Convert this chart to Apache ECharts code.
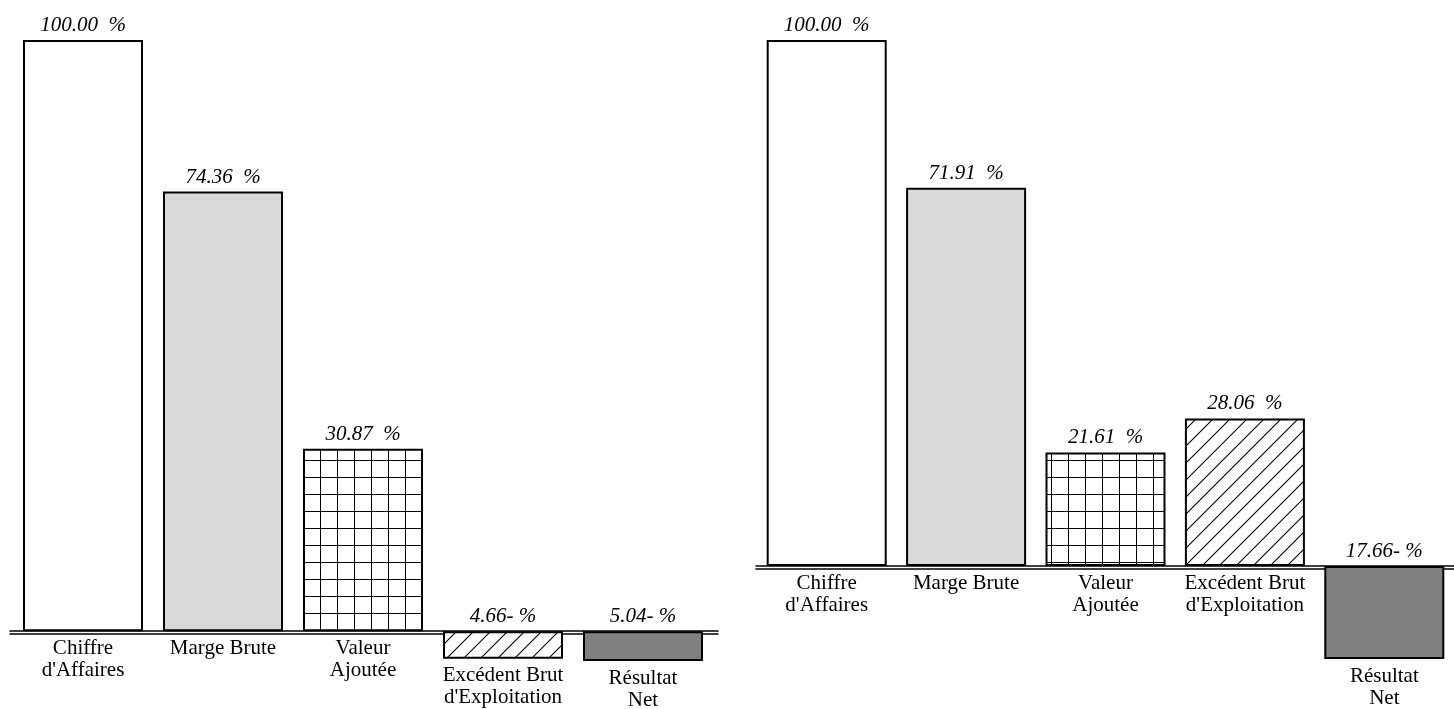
<!DOCTYPE html>
<html>
<head>
<meta charset="utf-8">
<script src="https://cdn.jsdelivr.net/npm/echarts@6/dist/echarts.min.js"></script>
<style>
html,body{margin:0;padding:0;background:#fff;}
#chart{width:1454px;height:709px;}
</style>
</head>
<body>
<div id="chart"></div>
<script>
// ---- data ----
var categories = ["Chiffre\nd'Affaires", "Marge Brute", "Valeur\nAjoutée", "Excédent Brut\nd'Exploitation", "Résultat\nNet"];
var valuesLeft = [100.00, 74.36, 30.87, -4.66, -5.04];
var valuesRight = [100.00, 71.91, 21.61, 28.06, -17.66];
var axisMax = 100;

// ---- styles ----
var FONT = 'Liberation Serif';
function makeGridTile() {
  var c = document.createElement('canvas');
  c.width = 17; c.height = 17;
  var g = c.getContext('2d');
  g.fillStyle = '#fff'; g.fillRect(0, 0, 17, 17);
  g.strokeStyle = '#000'; g.lineWidth = 1;
  g.beginPath();
  g.moveTo(14.5, 0); g.lineTo(14.5, 17);
  g.moveTo(0, 1.5); g.lineTo(17, 1.5);
  g.stroke();
  return c;
}
function makeHatchTile() {
  var c = document.createElement('canvas');
  c.width = 17; c.height = 17;
  var g = c.getContext('2d');
  g.fillStyle = '#fff'; g.fillRect(0, 0, 17, 17);
  g.strokeStyle = '#000'; g.lineWidth = 1.1;
  g.beginPath();
  g.moveTo(-1, 18); g.lineTo(18, -1);
  g.moveTo(-2, 2); g.lineTo(2, -2);
  g.moveTo(15, 19); g.lineTo(19, 15);
  g.stroke();
  return c;
}
var fills = [
  '#ffffff',
  '#d9d9d9',
  { image: makeGridTile(), repeat: 'repeat' },
  { image: makeHatchTile(), repeat: 'repeat' },
  '#808080'
];

function fmt(v) {
  return Math.abs(v).toFixed(2) + (v < 0 ? '-' : ' ') + ' %';
}

function barData(vals) {
  return vals.map(function (v, i) {
    return { value: v, itemStyle: { color: fills[i], borderColor: '#000', borderWidth: 2 } };
  });
}

function yAxisFor(gridIndex, vals) {
  return {
    type: 'value', gridIndex: gridIndex, min: Math.min.apply(null, vals), max: axisMax,
    axisLine: { show: false }, axisTick: { show: false }, axisLabel: { show: false }, splitLine: { show: false }
  };
}
function xAxisBars(gridIndex) {
  return {
    type: 'category', gridIndex: gridIndex, data: categories,
    axisLine: { show: false }, axisTick: { show: false }, axisLabel: { show: false }, splitLine: { show: false }
  };
}
function xAxisLine(gridIndex) {
  return {
    type: 'category', gridIndex: gridIndex, data: categories,
    axisLine: { show: true, onZero: true, lineStyle: { color: '#000', width: 1.5, shadowColor: '#000', shadowOffsetY: 3, shadowBlur: 0 } },
    axisTick: { show: false }, axisLabel: { show: false }, splitLine: { show: false }
  };
}
function seriesFor(axisIndex, vals) {
  return [
    {
      type: 'bar', xAxisIndex: axisIndex, yAxisIndex: axisIndex, barWidth: 120, barGap: '-100%',
      data: barData(vals), silent: true, z: 3,
      label: { show: true, position: 'top', distance: 4, fontFamily: FONT, fontStyle: 'italic', fontSize: 21, color: '#000',
        formatter: function (p) { return fmt(p.value); } }
    },
    {
      type: 'bar', xAxisIndex: axisIndex, yAxisIndex: axisIndex, barWidth: 120, barGap: '-100%',
      data: vals, silent: true, z: 2,
      itemStyle: { color: 'rgba(0,0,0,0)', borderWidth: 0 },
      label: { show: true, position: 'bottom', distance: 6, fontFamily: FONT, fontSize: 21, lineHeight: 22, color: '#000', align: 'center',
        formatter: function (p) { return categories[p.dataIndex]; } }
    }
  ];
}

var chart = echarts.init(document.getElementById('chart'), null, { renderer: 'canvas' });
chart.setOption({
  animation: false,
  backgroundColor: '#fff',
  grid: [
    { left: 13, width: 700, top: 40, height: 621 },
    { left: 10, width: 708, top: 40, height: 621 },
    { left: 757, width: 697, top: 40, height: 619 },
    { left: 756, width: 698, top: 40, height: 619 }
  ],
  xAxis: [xAxisBars(0), xAxisLine(1), xAxisBars(2), xAxisLine(3)],
  yAxis: [yAxisFor(0, valuesLeft), yAxisFor(1, valuesLeft), yAxisFor(2, valuesRight), yAxisFor(3, valuesRight)],
  series: [].concat(seriesFor(0, valuesLeft), seriesFor(2, valuesRight))
});
</script>
</body>
</html>
